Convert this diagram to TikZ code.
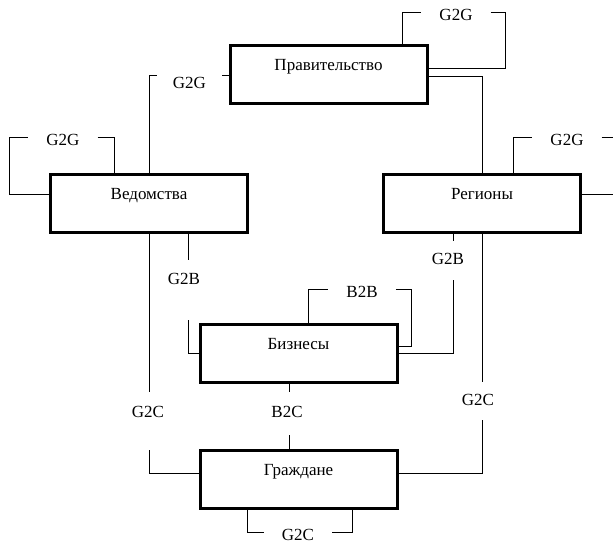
\documentclass[tikz,border=0pt]{standalone}
\usepackage{fontspec}
\setmainfont{Liberation Serif}

\begin{document}
\begin{tikzpicture}[x=1pt,y=-1pt,
  box/.style={draw,line width=3pt,outer sep=0pt,minimum width=197pt,minimum height=58pt,
    text height=8pt,text depth=16pt,font=\fontsize{17}{20}\selectfont},
  lbl/.style={inner xsep=18pt,inner ysep=0pt,text height=20.2pt,text depth=3pt,
    font=\fontsize{17}{20}\selectfont},
  link/.style={line width=1pt}]

 \useasboundingbox (0,0) rectangle (613,544);
 \clip (0,0) rectangle (613,544);

 % boxes
 \node[box] (gov) at (328.5,74.5) {Правительство};
 \node[box] (ved) at (149,203) {Ведомства};
 \node[box] (reg) at (482,203) {Регионы};
 \node[box] (biz) at (298.5,353) {Бизнесы};
 \node[box] (cit) at (298.5,479) {Граждане};

 % labels
 \node[lbl] (gg1) at (456,12) {G2G};
 \node[lbl,inner xsep=16pt,text height=30.2pt] (gg2) at (189.5,75) {G2G};
 \node[lbl] (gg3) at (63,137) {G2G};
 \node[lbl] (gg4) at (567,137) {G2G};
 \node[lbl] (bb) at (362,289) {B2B};
 \node[lbl] (gc) at (298,532) {G2C};
 \node[lbl] (gb1) at (184,276) {G2B};
 \node[lbl] (gb2) at (448,256) {G2B};
 \node[lbl] (gc1) at (148,409) {G2C};
 \node[lbl] (bc) at (287,409) {B2C};
 \node[lbl] (gc2) at (478,397) {G2C};

 % G2G
 \draw[link] ([xshift=73.5pt]gov.north) |- (gg1.west);
 \draw[link] (gg1.east) -- ++(15,0) |- ([yshift=6.5pt]gov.east);
 \draw[link] ([yshift=-1.5pt]gov.east) -| (reg.north);
 \draw[link] (ved.north) |- (gg2.west);
 \draw[link] (gg2.east) -- (gov.west |- gg2.east);
 \draw[link] ([yshift=9pt]ved.west) -- ++(-41,0) |- (gg3.west);
 \draw[link] (gg3.east) -| ([xshift=-35pt]ved.north);
 \draw[link] ([xshift=31pt]reg.north) |- (gg4.west);
 \draw[link] (gg4.east) -- ++(16,0) |- ([yshift=9pt]reg.east);

 % G2B, B2B
 \coordinate (vb1) at (188,260);
 \coordinate (vb2) at (188,320);
 \draw[link] ([xshift=39pt]ved.south) -- (vb1);
 \draw[link] (vb2) |- (biz.west);
 \coordinate (rb1) at (453,241);
 \coordinate (rb2) at (453,280);
 \draw[link] ([xshift=-29pt]reg.south) -- (rb1);
 \draw[link] (rb2) |- (biz.east);
 \draw[link] ([xshift=9.5pt]biz.north) |- (bb.west);
 \draw[link] (bb.east) -- ++(16,0) |- ([yshift=7pt]biz.east);

 % G2C, B2C
 \coordinate (vc1) at (149,392);
 \coordinate (vc2) at (149,450);
 \draw[link] (ved.south) -- (vc1);
 \draw[link] (vc2) |- ([yshift=6pt]cit.west);
 \coordinate (bc1) at (289,392);
 \coordinate (bc2) at (289,435);
 \draw[link] ([xshift=-9.5pt]biz.south) -- (bc1);
 \draw[link] (bc2) -- ([xshift=-9.5pt]cit.north);
 \coordinate (rc1) at (482,382);
 \coordinate (rc2) at (482,420);
 \draw[link] (reg.south) -- (rc1);
 \draw[link] (rc2) |- ([yshift=6pt]cit.east);
 \draw[link] ([xshift=-51.5pt]cit.south) |- (gc.west);
 \draw[link] (gc.east) -| ([xshift=53.5pt]cit.south);

\end{tikzpicture}
\end{document}
